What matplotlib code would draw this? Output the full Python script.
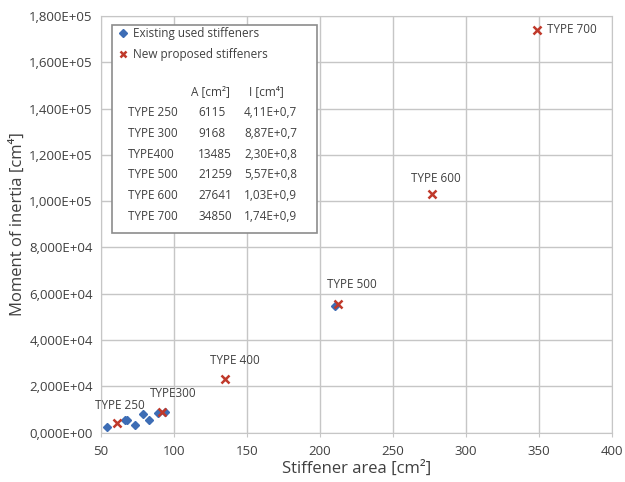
import matplotlib
matplotlib.use("Agg")
import matplotlib.pyplot as plt
from matplotlib.ticker import FuncFormatter, MultipleLocator

plt.rcParams['font.family'] = ['Open Sans', 'DejaVu Sans']

# existing stiffeners (area cm2, inertia cm4)
existing_area = [54, 66.5, 68, 73.5, 79, 83, 89, 94, 210.5]
existing_inertia = [2300, 5200, 5600, 3200, 7800, 5600, 8500, 8900, 54500]

# new proposed stiffeners
types = ['TYPE 250', 'TYPE 300', 'TYPE400', 'TYPE 500', 'TYPE 600', 'TYPE 700']
point_labels = ['TYPE 250', 'TYPE300', 'TYPE 400', 'TYPE 500', 'TYPE 600', 'TYPE 700']
new_area = [61.15, 91.68, 134.85, 212.59, 276.41, 348.50]
new_inertia = [4110, 8870, 23000, 55700, 103000, 174000]
table_a = ['6115', '9168', '13485', '21259', '27641', '34850']
table_i = ['4,11E+0,7', '8,87E+0,7', '2,30E+0,8', '5,57E+0,8', '1,03E+0,9', '1,74E+0,9']

# label offsets in pixels
label_offsets = [(3, 17), (11, 18), (10, 19), (13, 19), (4, 16), (10, 0)]

blue = '#3d6db5'
red = '#c0392b'
text_col = '#404040'
grid_col = '#c6c6c6'

fig = plt.figure(figsize=(6.25, 4.82), dpi=100)
ax = fig.add_axes([101 / 625, 49.5 / 482, 511 / 625, 416.5 / 482])

ax.plot(existing_area, existing_inertia, linestyle='none', marker='D', markersize=4.5,
        color=blue, label='Existing used stiffeners', zorder=3)
ax.plot(new_area, new_inertia, linestyle='none', marker='x', markersize=6, markeredgewidth=1.8,
        color=red, label='New proposed stiffeners', zorder=4)

for name, xv, yv, off in zip(point_labels, new_area, new_inertia, label_offsets):
    ha = 'left' if name == 'TYPE 700' else 'center'
    ax.annotate(name, (xv, yv), xytext=off, textcoords='offset pixels',
                ha=ha, va='center', fontsize=8.5, color=text_col)

ax.set_xlim(50, 400)
ax.set_ylim(0, 180000)
ax.xaxis.set_major_locator(MultipleLocator(50))
ax.yaxis.set_major_locator(MultipleLocator(20000))
ax.yaxis.set_major_formatter(FuncFormatter(lambda v, p: f"{v:.3E}".replace('.', ',')))
ax.grid(True, color=grid_col, linewidth=1)
ax.set_axisbelow(True)
for s in ax.spines.values():
    s.set_color(grid_col)
ax.tick_params(axis='both', colors=text_col, labelsize=9.5, length=3, color=grid_col)
ax.tick_params(axis='y', length=0, pad=6)
ax.tick_params(axis='x', pad=6)

ax.set_xlabel('Stiffener area [cm²]', fontsize=12, color=text_col, labelpad=2)
ax.set_ylabel('Moment of inertia [cm⁴]', fontsize=12, color=text_col, labelpad=2)

# legend box with table
box = plt.Rectangle((0.021, 0.479), 0.402, 0.499, transform=ax.transAxes,
                    facecolor='white', edgecolor='#8c8c8c', linewidth=1.2, zorder=5)
ax.add_patch(box)
leg = ax.legend(loc='upper left', bbox_to_anchor=(0.025, 0.985), frameon=False,
                fontsize=8.5, handlelength=0.8, handletextpad=0.4, borderaxespad=0,
                labelspacing=0.7, labelcolor=text_col, markerscale=0.8)
leg.set_zorder(6)

ax.text(0.215, 0.818, 'A [cm²]', transform=ax.transAxes, fontsize=8.5,
        color=text_col, ha='center', va='center', zorder=6)
ax.text(0.323, 0.818, 'I [cm⁴]', transform=ax.transAxes, fontsize=8.5,
        color=text_col, ha='center', va='center', zorder=6)
for i, (t, a, iv) in enumerate(zip(types, table_a, table_i)):
    yy = 0.768 - i * 0.0498
    ax.text(0.053, yy, t, transform=ax.transAxes, fontsize=8.5, color=text_col,
            ha='left', va='center', zorder=6)
    ax.text(0.19, yy, a, transform=ax.transAxes, fontsize=8.5, color=text_col,
            ha='left', va='center', zorder=6)
    ax.text(0.28, yy, iv, transform=ax.transAxes, fontsize=8.5, color=text_col,
            ha='left', va='center', zorder=6)

fig.savefig('out.png', dpi=100)
